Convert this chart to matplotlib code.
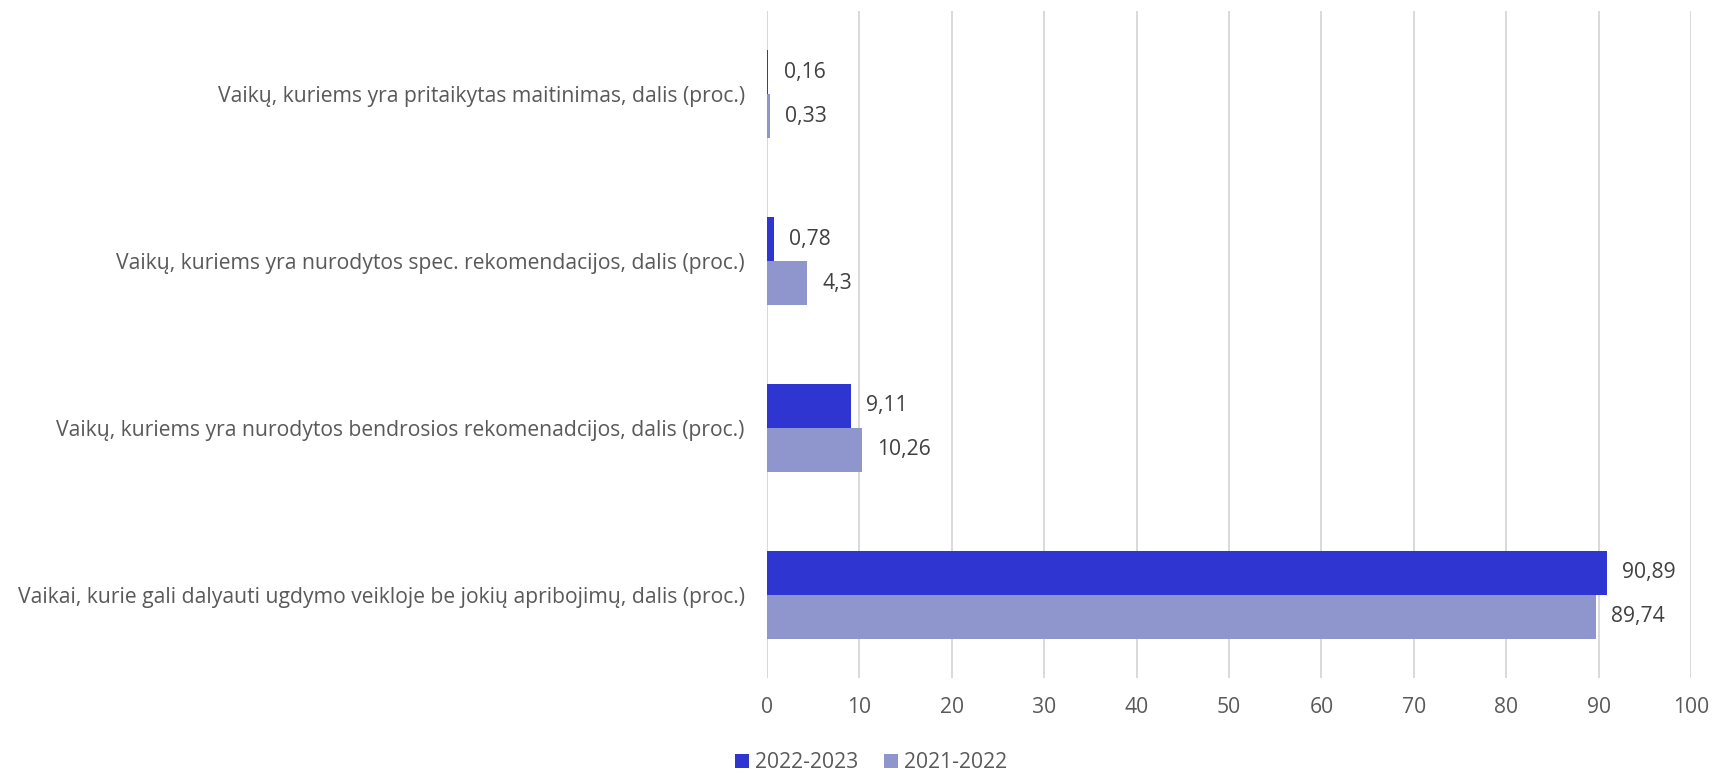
import matplotlib
matplotlib.use("Agg")
import matplotlib.pyplot as plt
import numpy as np

categories = [
    "Vaikai, kurie gali dalyauti ugdymo veikloje be jokių apribojimų, dalis (proc.)",
    "Vaikų, kuriems yra nurodytos bendrosios rekomenadcijos, dalis (proc.)",
    "Vaikų, kuriems yra nurodytos spec. rekomendacijos, dalis (proc.)",
    "Vaikų, kuriems yra pritaikytas maitinimas, dalis (proc.)",
]
series_names = ["2022-2023", "2021-2022"]
values_2022_2023 = [90.89, 9.11, 0.78, 0.16]
values_2021_2022 = [89.74, 10.26, 4.3, 0.33]
labels_2022_2023 = ["90,89", "9,11", "0,78", "0,16"]
labels_2021_2022 = ["89,74", "10,26", "4,3", "0,33"]
xticks = list(range(0, 101, 10))

plt.rcParams['font.family'] = ['Open Sans', 'DejaVu Sans']
FS = 15.2

W, H = 1714, 774
fig = plt.figure(figsize=(W/100, H/100), dpi=100)
L, R, T, B = 767, 1691, 11, 678
ax = fig.add_axes([L/W, 1-B/H, (R-L)/W, (B-T)/H])

y = np.arange(len(categories))
h = 0.264
c1 = "#2E35D0"
c2 = "#8F96CE"
b1 = ax.barh(y + h/2, values_2022_2023, height=h, color=c1, label=series_names[0], zorder=3, linewidth=0)
b2 = ax.barh(y - h/2, values_2021_2022, height=h, color=c2, label=series_names[1], zorder=3, linewidth=0)

for bars, labs in ((b1, labels_2022_2023), (b2, labels_2021_2022)):
    for rect, lab in zip(bars, labs):
        ax.annotate(lab, (rect.get_width(), rect.get_y() + rect.get_height()/2),
                    xytext=(11, 0), textcoords="offset points", va="center", ha="left",
                    fontsize=FS, color="#404040")

ax.set_xlim(0, 100)
ax.set_ylim(-0.5, 3.5)
ax.set_xticks(xticks)
ax.set_xticklabels([str(t) for t in xticks])
ax.set_yticks(y)
ax.set_yticklabels(categories)
ax.tick_params(axis='both', length=0, labelsize=FS, colors="#595959")
ax.tick_params(axis='y', pad=16)
ax.tick_params(axis='x', pad=14)
ax.grid(axis='x', color="#D9D9D9", linewidth=1.4, zorder=0)
for s in ax.spines.values():
    s.set_visible(False)
ax.axvline(0, color="#D0D0D0", linewidth=1.4, zorder=1)

fig.legend(handles=[b1, b2], labels=series_names, loc="center", bbox_to_anchor=(871/W, 1-763/H),
           ncol=2, frameon=False, fontsize=FS, handlelength=0.67, handleheight=0.67,
           handletextpad=0.25, columnspacing=1.25, labelcolor="#595959",
           borderpad=0, borderaxespad=0)

fig.savefig("out.png", dpi=100)
